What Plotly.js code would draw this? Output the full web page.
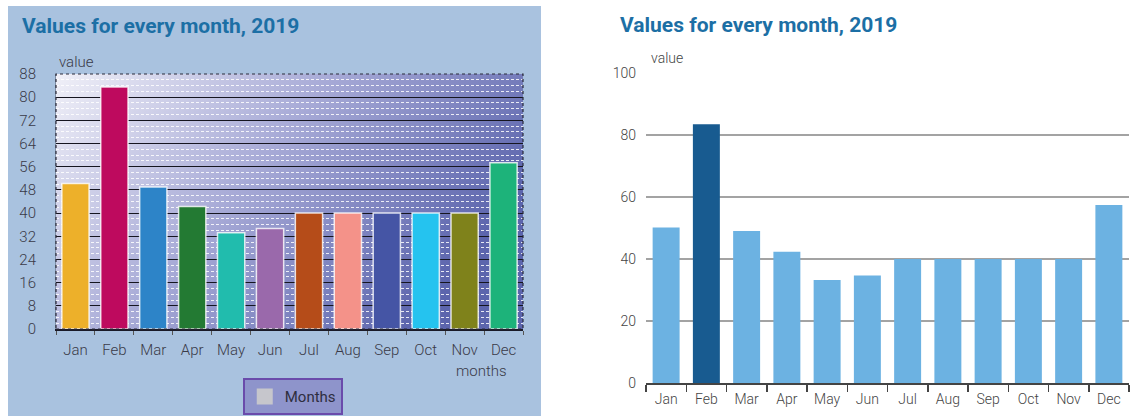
<!DOCTYPE html>
<html><head><meta charset="utf-8">
<script src="https://cdn.plot.ly/plotly-3.0.1.min.js"></script>
<style>
html,body{margin:0;padding:0;background:#fff;width:1130px;height:416px;overflow:hidden;}
#left{position:absolute;left:8px;top:6px;width:533px;height:410px;}
#right{position:absolute;left:590px;top:0;width:540px;height:416px;}
</style></head><body>
<div id="left"></div><div id="right"></div>
<script>
// ---- data ----
const months = ['Jan','Feb','Mar','Apr','May','Jun','Jul','Aug','Sep','Oct','Nov','Dec'];
const values = [50.2, 83.5, 49, 42.3, 33.2, 34.7, 40, 40, 40, 40, 40, 57.4];
const legendName = 'Months';
const chartTitle = 'Values for every month, 2019';
const yTitle = 'value';
const xTitle = 'months';
const highlight = 'Feb';

// ---- styles ----
const palette = ['#edb02a','#be0a5e','#2d84c8','#237a33','#21bcad','#9a69ab',
                 '#b54c19','#f49289','#4555a5','#25c3ef','#7f821b','#1db37a'];
const FONT = 'Roboto, "Noto Sans", sans-serif';
const titleColor = '#1c6fa5';

// gradient for left plot area
const svg = '<svg xmlns="http://www.w3.org/2000/svg" width="200" height="100" viewBox="0 0 200 100" preserveAspectRatio="none">' +
  '<defs><linearGradient id="g" x1="0" y1="0" x2="1" y2="0.45">' +
  '<stop offset="0" stop-color="#f0f0f8"/><stop offset="0.5" stop-color="#a6a9d6"/><stop offset="1" stop-color="#5c65ad"/>' +
  '</linearGradient></defs><rect width="200" height="100" fill="url(#g)"/></svg>';
const gradSrc = 'data:image/svg+xml;base64,' + btoa(svg);

// ---------- LEFT CHART ----------
(function(){
  const W = 533, H = 410, m = {l:48, r:18, t:68, b:86.5, autoexpand:false};
  const pw = W - m.l - m.r, ph = H - m.t - m.b;
  const px = x => (x - m.l) / pw, py = y => (H - m.b - y) / ph;
  const traces = [
    {type:'bar', x: months, y: values, showlegend:false, hoverinfo:'x+y',
     marker:{color: palette, line:{color:'rgba(255,255,255,0.8)', width:1.5}}},
    {type:'scatter', mode:'markers', x:[null], y:[null], name: legendName,
     marker:{symbol:'square', size:16, color:'#c6c6cc'}}
  ];
  const layout = {
    width: W, height: H, margin: m,
    paper_bgcolor:'#a9c2df', plot_bgcolor:'#a6a9d6',
    font:{family: FONT, color:'#3a3a48', size:15},
    title:{text: chartTitle, xref:'container', yref:'container', x: 14/W, xanchor:'left',
           y: 1 - 20/H, yanchor:'middle', font:{family: FONT, size:21, weight:700, color: titleColor}},
    bargap: 0.3,
    xaxis:{type:'category', showline:true, linecolor:'#1a1a28', linewidth:2,
           ticks:'outside', tickson:'boundaries', ticklen:4, tickcolor:'#555',
           tickfont:{size:15, weight:300, color:'#3a3a48'}, ticklabelstandoff:6,
           showgrid:false, zeroline:false, fixedrange:true},
    yaxis:{range:[0,88], dtick:8, tick0:0, showgrid:true, gridcolor:'#15151f', gridwidth:1,
           minor:{dtick:2, showgrid:true, gridcolor:'rgba(255,255,255,0.85)', griddash:'3px,2px', gridwidth:1},
           showline:true, linecolor:'#7d8ca3', linewidth:1, ticks:'', ticklabelstandoff:16,
           tickfont:{size:15, weight:300, color:'#3a3a48'}, zeroline:false, fixedrange:true},
    images:[{source: gradSrc, xref:'paper', yref:'paper', x:0, y:1, sizex:1, sizey:1,
             sizing:'stretch', layer:'below', xanchor:'left', yanchor:'top'}],
    shapes:[{type:'rect', xref:'paper', yref:'paper', x0:0, x1:1, y0:0, y1:1,
             line:{color:'#2a2a3a', width:1.2, dash:'dot'}, layer:'above'}],
    showlegend:true,
    legend:{orientation:'h', x: px(284.75), xanchor:'center', y: py(391.5), yanchor:'middle',
            bgcolor:'#8e94cb', bordercolor:'#6a4bab', borderwidth:2,
            font:{size:15, color:'#2e2e40'}},
    annotations:[
      {text: yTitle, xref:'paper', yref:'paper', x: px(49), y: py(56), xanchor:'left', yanchor:'middle',
       showarrow:false, font:{size:15, weight:300, color:'#3a3a48'}},
      {text: xTitle, xref:'paper', yref:'paper', x: px(473), y: py(366), xanchor:'center', yanchor:'middle',
       showarrow:false, font:{size:15, weight:300, color:'#3a3a48'}}
    ]
  };
  Plotly.newPlot('left', traces, layout, {displayModeBar:false, staticPlot:true});
})();

// ---------- RIGHT CHART ----------
(function(){
  const W = 540, H = 416, m = {l:56, r:1, t:73.3, b:32.5, autoexpand:false};
  const pw = W - m.l - m.r, ph = H - m.t - m.b;
  const px = x => (x - m.l) / pw, py = y => (H - m.b - y) / ph;
  const colors = months.map(mo => mo === highlight ? '#185b90' : '#6cb2e2');
  const traces = [
    {type:'bar', x: months, y: values, showlegend:false, marker:{color: colors}}
  ];
  const layout = {
    width: W, height: H, margin: m,
    paper_bgcolor:'#ffffff', plot_bgcolor:'#ffffff',
    font:{family: FONT, color:'#444', size:14},
    title:{text: chartTitle, xref:'container', yref:'container', x: 30/W, xanchor:'left',
           y: 1 - 25/H, yanchor:'middle', font:{family: FONT, size:21, weight:700, color: titleColor}},
    bargap: 0.33,
    xaxis:{type:'category', showline:true, linecolor:'#444', linewidth:1.5,
           ticks:'outside', tickson:'boundaries', ticklen:7, tickcolor:'#444', tickwidth:1.5,
           tickfont:{size:14, weight:300, color:'#444'}, ticklabelstandoff:3,
           showgrid:false, zeroline:false, fixedrange:true},
    yaxis:{range:[0,100], dtick:20, showgrid:true, gridcolor:'#a3a3a3', gridwidth:1.3,
           showline:false, ticks:'', ticklabelstandoff:9, zeroline:false,
           tickfont:{size:14, weight:300, color:'#444'}, fixedrange:true},
    annotations:[
      {text: yTitle, xref:'paper', yref:'paper', x: px(59), y: py(58), xanchor:'left', yanchor:'middle',
       showarrow:false, font:{size:14, weight:300, color:'#444'}}
    ]
  };
  Plotly.newPlot('right', traces, layout, {displayModeBar:false, staticPlot:true});
})();
</script>
</body></html>
